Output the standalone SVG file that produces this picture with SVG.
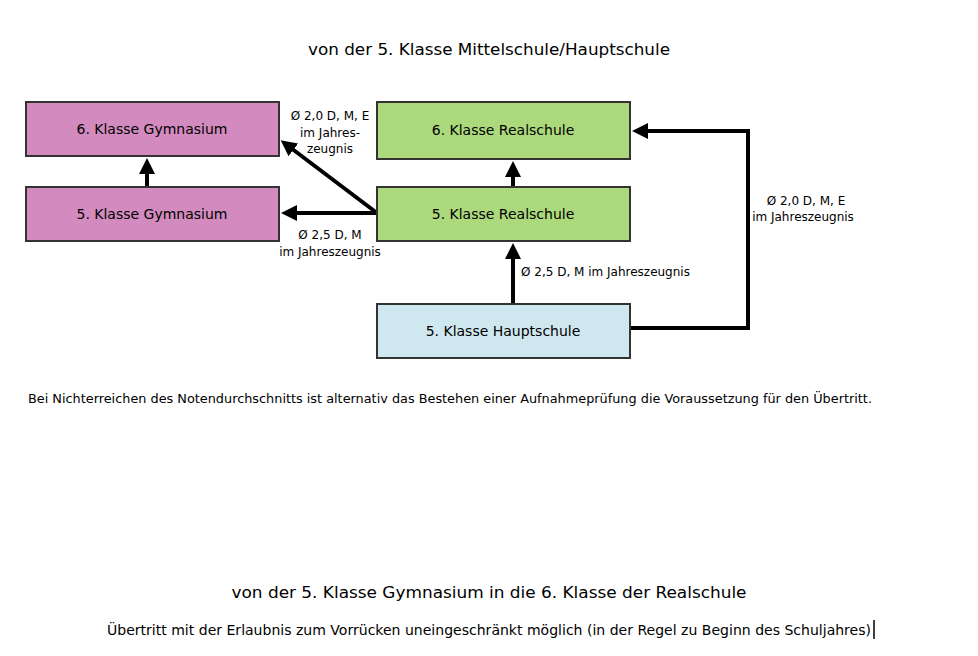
<svg xmlns="http://www.w3.org/2000/svg" width="978" height="656" viewBox="0 0 978 656">
<defs>
<style>
text{font-family:"DejaVu Sans","Liberation Sans",sans-serif;fill:#000}
.node{stroke:#333;stroke-width:2}
.gym{fill:#D38BBF}
.rs{fill:#ACD97B}
.hs{fill:#CFE7EE}
.nt{font-size:14px;text-anchor:middle}
.lb{font-size:12px;text-anchor:middle}
.ln{stroke:#000;stroke-width:4;fill:none}
</style>
<marker id="ah" markerWidth="4" markerHeight="4" refX="2" refY="2" orient="auto" markerUnits="strokeWidth" viewBox="0 0 4 4">
<path d="M0,0 L4,2 L0,4 Z" fill="#000"/>
</marker>
</defs>
<rect width="978" height="656" fill="#fff"/>
<text x="489" y="55" font-size="16" text-anchor="middle" textLength="362" lengthAdjust="spacingAndGlyphs">von der 5. Klasse Mittelschule/Hauptschule</text>

<g id="connectors">
<line class="ln" x1="147" y1="187" x2="147" y2="166" marker-end="url(#ah)"/>
<line class="ln" x1="513" y1="187" x2="513" y2="169" marker-end="url(#ah)"/>
<line class="ln" x1="513" y1="304" x2="513" y2="251" marker-end="url(#ah)"/>
<line class="ln" x1="377" y1="213" x2="289" y2="213" marker-end="url(#ah)"/>
<line class="ln" x1="377" y1="213" x2="287" y2="145" marker-end="url(#ah)"/>
<polyline class="ln" points="630,328 748,328 748,131 640,131" marker-end="url(#ah)"/>
</g>

<g id="n6gym"><rect class="node gym" x="26" y="102" width="253" height="54"/><text class="nt" x="152" y="134">6. Klasse Gymnasium</text></g>
<g id="n5gym"><rect class="node gym" x="26" y="187" width="253" height="54"/><text class="nt" x="152" y="219">5. Klasse Gymnasium</text></g>
<g id="n6rs"><rect class="node rs" x="377" y="102" width="253" height="57"/><text class="nt" x="503" y="135">6. Klasse Realschule</text></g>
<g id="n5rs"><rect class="node rs" x="377" y="187" width="253" height="54"/><text class="nt" x="503" y="219">5. Klasse Realschule</text></g>
<g id="nhs"><rect class="node hs" x="377" y="304" width="253" height="54"/><text class="nt" x="503" y="336">5. Klasse Hauptschule</text></g>

<g id="labels">
<text class="lb" x="330" y="120">Ø 2,0 D, M, E</text>
<text class="lb" x="330" y="137">im Jahres-</text>
<text class="lb" x="330" y="153">zeugnis</text>
<text class="lb" x="330" y="239">Ø 2,5 D, M</text>
<text class="lb" x="330" y="256">im Jahreszeugnis</text>
<text font-size="12" x="521" y="276">Ø 2,5 D, M im Jahreszeugnis</text>
<text class="lb" x="806" y="205">Ø 2,0 D, M, E</text>
<text class="lb" x="803" y="221">im Jahreszeugnis</text>
</g>

<text x="28" y="403" font-size="13" textLength="844" lengthAdjust="spacingAndGlyphs">Bei Nichterreichen des Notendurchschnitts ist alternativ das Bestehen einer Aufnahmeprüfung die Voraussetzung für den Übertritt.</text>
<text x="489" y="598" font-size="16" text-anchor="middle" textLength="515" lengthAdjust="spacingAndGlyphs">von der 5. Klasse Gymnasium in die 6. Klasse der Realschule</text>
<text x="107" y="635" font-size="14" textLength="764" lengthAdjust="spacingAndGlyphs">Übertritt mit der Erlaubnis zum Vorrücken uneingeschränkt möglich (in der Regel zu Beginn des Schuljahres)</text>
<line x1="874" y1="620" x2="874" y2="639" stroke="#000" stroke-width="1.5"/>
</svg>
